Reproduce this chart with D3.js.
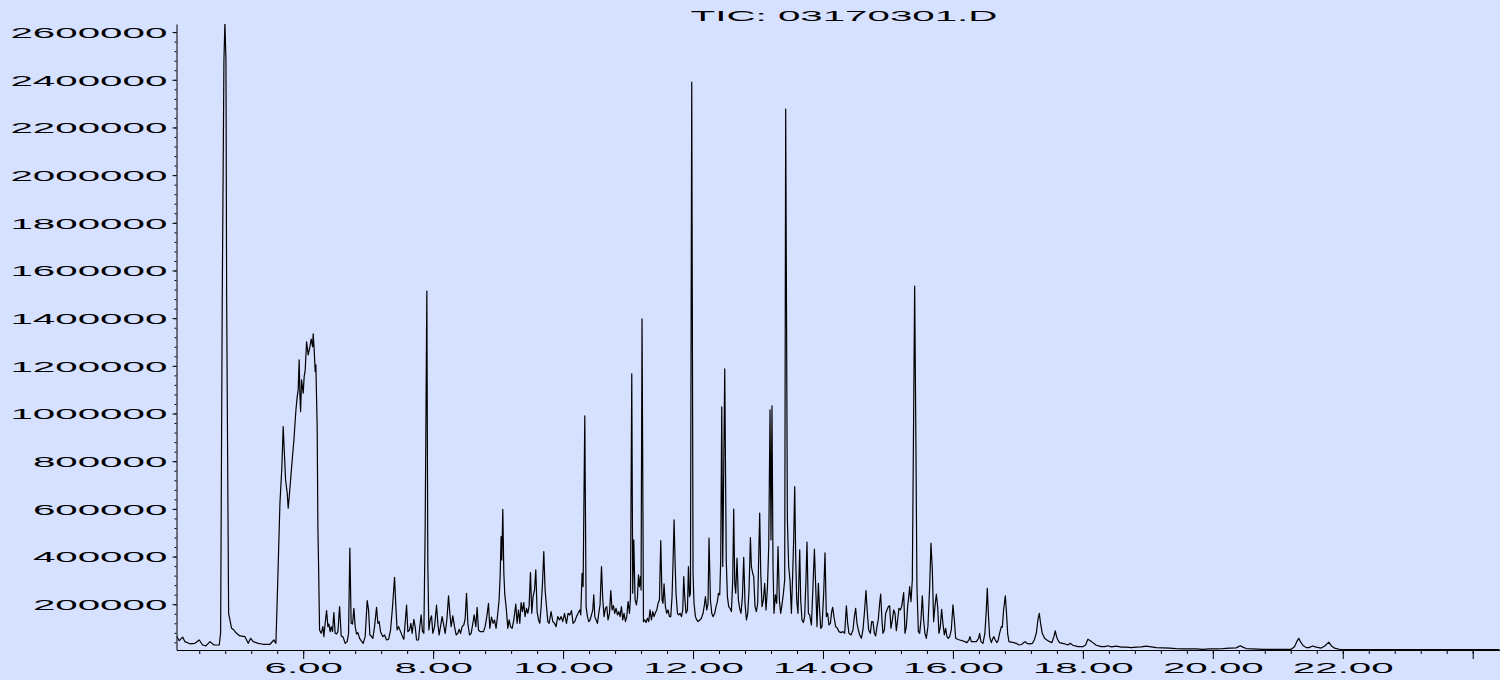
<!DOCTYPE html>
<html>
<head>
<meta charset="utf-8">
<script src="https://cdn.jsdelivr.net/npm/d3@7"></script>
<style>
  html, body { margin: 0; padding: 0; background: #d6e0ff; }
  svg { display: block; }
</style>
</head>
<body>
<svg id="chart" width="1500" height="680"></svg>
<script>
// Total ion chromatogram, run 03170301.D
const chartTitle = "TIC: 03170301.D";

// abundance axis: labelled ticks and unlabelled minor ticks
const abundanceTicks = [200000, 400000, 600000, 800000, 1000000, 1200000, 1400000,
  1600000, 1800000, 2000000, 2200000, 2400000, 2600000];
const abundanceMinorTicks = d3.range(1, 66).map(i => i * 40000);

// retention time axis (minutes)
const timeTicks = [6, 8, 10, 12, 14, 16, 18, 20, 22, 24];
const timeTickLabels = ["6.00", "8.00", "10.00", "12.00", "14.00", "16.00", "18.00", "20.00", "22.00", ""];
const timeMinorTicks = d3.range(0, 50).map(i => +(4.4 + 0.4 * i).toFixed(1));

// [retention time (min), abundance (counts)]
const ticPoints = [
  [4.052,66000],[4.092,47000],[4.145,62000],[4.180,43000],[4.257,34000],[4.334,36000],[4.400,50000],
  [4.452,29000],[4.503,25000],[4.565,43000],[4.626,29000],[4.708,29000],[4.729,80000],[4.754,1476000],
  [4.780,2483000],[4.795,2640000],[4.811,2483000],[4.822,1476000],[4.852,162000],[4.898,99000],
  [4.934,92000],[4.965,80000],[5.026,67000],[5.103,64000],[5.154,36000],[5.191,57000],[5.231,43000],
  [5.308,36000],[5.385,32000],[5.488,32000],[5.549,50000],[5.580,36000],[5.600,218000],[5.642,624000],
  [5.672,777000],[5.692,945000],[5.708,847000],[5.729,721000],[5.754,666000],[5.769,603000],
  [5.785,651000],[5.822,777000],[5.857,889000],[5.888,1015000],[5.908,1071000],[5.923,1099000],
  [5.938,1225000],[5.949,1085000],[5.960,1008000],[5.975,1141000],[6.000,1085000],[6.015,1155000],
  [6.031,1183000],[6.052,1301000],[6.077,1246000],[6.103,1280000],[6.123,1312000],[6.145,1280000],
  [6.154,1334000],[6.169,1267000],[6.185,1176000],[6.195,1204000],[6.215,945000],[6.226,525000],
  [6.237,358000],[6.252,92000],[6.277,78000],[6.303,106000],[6.318,64000],[6.338,120000],[6.360,173000],
  [6.380,106000],[6.395,117000],[6.415,85000],[6.431,106000],[6.452,85000],[6.472,165000],[6.492,78000],
  [6.514,75000],[6.534,85000],[6.560,190000],[6.585,67000],[6.615,62000],[6.646,36000],[6.677,43000],
  [6.698,78000],[6.718,435000],[6.738,120000],[6.760,117000],[6.780,183000],[6.800,106000],[6.822,75000],
  [6.842,81000],[6.868,57000],[6.892,47000],[6.923,36000],[6.954,64000],[6.985,215000],[7.006,176000],
  [7.026,71000],[7.046,67000],[7.072,57000],[7.098,106000],[7.129,187000],[7.149,120000],[7.169,127000],
  [7.191,85000],[7.226,64000],[7.252,71000],[7.283,50000],[7.314,53000],[7.345,92000],[7.375,190000],
  [7.406,313000],[7.426,190000],[7.446,92000],[7.468,106000],[7.498,85000],[7.529,64000],[7.549,53000],
  [7.569,120000],[7.591,196000],[7.611,85000],[7.637,92000],[7.657,120000],[7.677,78000],[7.703,137000],
  [7.723,106000],[7.745,50000],[7.775,50000],[7.795,106000],[7.815,155000],[7.837,85000],[7.857,78000],
  [7.877,512000],[7.903,1514000],[7.918,372000],[7.934,92000],[7.954,134000],[7.975,151000],[7.995,78000],
  [8.022,106000],[8.052,196000],[8.072,120000],[8.092,71000],[8.118,113000],[8.138,148000],[8.165,109000],
  [8.185,78000],[8.211,134000],[8.237,235000],[8.257,162000],[8.277,106000],[8.303,151000],[8.329,106000],
  [8.354,71000],[8.380,78000],[8.400,95000],[8.422,78000],[8.446,106000],[8.472,113000],[8.492,137000],
  [8.514,246000],[8.534,120000],[8.560,71000],[8.585,78000],[8.611,120000],[8.631,155000],[8.657,106000],
  [8.677,187000],[8.698,92000],[8.723,85000],[8.749,85000],[8.775,85000],[8.800,106000],[8.826,148000],
  [8.852,204000],[8.872,99000],[8.898,146000],[8.923,120000],[8.945,134000],[8.969,99000],[8.995,162000],
  [9.015,218000],[9.031,316000],[9.046,484000],[9.057,386000],[9.072,598000],[9.088,330000],[9.103,239000],
  [9.123,190000],[9.149,99000],[9.169,134000],[9.191,106000],[9.215,99000],[9.242,134000],[9.272,201000],
  [9.292,120000],[9.314,176000],[9.334,120000],[9.354,207000],[9.375,169000],[9.395,207000],[9.415,148000],
  [9.437,183000],[9.457,162000],[9.477,193000],[9.498,333000],[9.518,162000],[9.538,232000],[9.560,260000],
  [9.580,344000],[9.600,169000],[9.622,134000],[9.642,120000],[9.662,190000],[9.683,288000],[9.703,421000],
  [9.723,260000],[9.745,190000],[9.765,127000],[9.785,120000],[9.815,169000],[9.842,127000],[9.868,120000],
  [9.892,106000],[9.918,148000],[9.945,134000],[9.969,148000],[9.995,127000],[10.022,162000],
  [10.052,120000],[10.077,162000],[10.103,155000],[10.129,173000],[10.154,120000],[10.180,127000],
  [10.206,148000],[10.231,162000],[10.257,176000],[10.272,155000],[10.292,330000],[10.308,274000],
  [10.334,990000],[10.354,190000],[10.375,148000],[10.395,127000],[10.415,134000],[10.437,155000],
  [10.457,176000],[10.472,239000],[10.488,148000],[10.508,134000],[10.529,120000],[10.549,162000],
  [10.569,197000],[10.591,358000],[10.611,218000],[10.631,148000],[10.652,183000],[10.672,190000],
  [10.692,134000],[10.714,162000],[10.734,257000],[10.754,176000],[10.775,194000],[10.795,162000],
  [10.815,183000],[10.837,155000],[10.857,169000],[10.877,148000],[10.898,190000],[10.918,134000],
  [10.938,162000],[10.960,127000],[10.980,148000],[11.000,211000],[11.022,162000],[11.037,232000],
  [11.057,1166000],[11.072,246000],[11.088,470000],[11.108,218000],[11.129,197000],[11.145,232000],
  [11.160,323000],[11.175,274000],[11.191,316000],[11.200,260000],[11.215,1397000],[11.237,127000],
  [11.257,134000],[11.277,123000],[11.298,141000],[11.318,127000],[11.338,176000],[11.360,134000],
  [11.380,169000],[11.400,148000],[11.422,165000],[11.442,176000],[11.462,204000],[11.483,218000],
  [11.503,467000],[11.523,218000],[11.538,204000],[11.554,285000],[11.575,190000],[11.595,162000],
  [11.615,176000],[11.637,148000],[11.657,148000],[11.677,232000],[11.692,372000],[11.708,554000],
  [11.723,386000],[11.738,246000],[11.760,162000],[11.780,155000],[11.800,162000],[11.822,148000],
  [11.842,176000],[11.857,316000],[11.872,232000],[11.892,162000],[11.914,176000],[11.929,358000],
  [11.945,232000],[11.960,246000],[11.980,2390000],[12.000,330000],[12.015,204000],[12.037,148000],
  [12.057,134000],[12.077,127000],[12.103,134000],[12.129,141000],[12.154,162000],[12.175,197000],
  [12.191,232000],[12.211,176000],[12.231,204000],[12.246,477000],[12.268,218000],[12.288,162000],
  [12.308,148000],[12.334,162000],[12.354,190000],[12.375,211000],[12.391,246000],[12.411,239000],
  [12.426,386000],[12.442,1028000],[12.457,358000],[12.488,1187000],[12.511,386000],[12.529,232000],
  [12.549,190000],[12.569,183000],[12.591,169000],[12.611,302000],[12.626,599000],[12.642,288000],
  [12.657,246000],[12.677,393000],[12.698,218000],[12.718,183000],[12.738,162000],[12.760,232000],
  [12.780,397000],[12.800,204000],[12.822,134000],[12.842,162000],[12.862,260000],[12.883,479000],
  [12.898,358000],[12.918,330000],[12.934,316000],[12.954,190000],[12.975,169000],[12.995,204000],
  [13.011,400000],[13.026,582000],[13.042,330000],[13.062,190000],[13.083,218000],[13.103,288000],
  [13.123,176000],[13.145,267000],[13.165,442000],[13.185,1015000],[13.200,470000],[13.215,1032000],
  [13.231,358000],[13.246,162000],[13.268,239000],[13.288,204000],[13.308,442000],[13.329,218000],
  [13.349,162000],[13.369,197000],[13.391,246000],[13.411,302000],[13.426,2277000],[13.452,554000],
  [13.472,358000],[13.492,302000],[13.514,162000],[13.534,330000],[13.549,470000],[13.565,693000],
  [13.580,400000],[13.595,218000],[13.615,162000],[13.642,428000],[13.657,218000],[13.677,134000],
  [13.698,123000],[13.718,148000],[13.738,302000],[13.754,461000],[13.775,162000],[13.795,155000],
  [13.822,113000],[13.846,274000],[13.868,431000],[13.888,274000],[13.908,106000],[13.929,288000],
  [13.945,190000],[13.965,99000],[13.985,106000],[14.011,246000],[14.031,416000],[14.052,148000],
  [14.072,162000],[14.092,113000],[14.114,120000],[14.134,169000],[14.149,187000],[14.169,148000],
  [14.195,106000],[14.222,99000],[14.246,85000],[14.277,81000],[14.308,85000],[14.334,78000],
  [14.360,193000],[14.380,120000],[14.400,78000],[14.431,71000],[14.462,92000],[14.483,148000],
  [14.503,183000],[14.523,120000],[14.545,92000],[14.565,71000],[14.591,57000],[14.615,92000],
  [14.637,162000],[14.662,257000],[14.683,162000],[14.703,92000],[14.729,78000],[14.749,127000],
  [14.769,127000],[14.791,78000],[14.811,67000],[14.831,106000],[14.852,137000],[14.872,204000],
  [14.888,242000],[14.908,134000],[14.923,78000],[14.945,92000],[14.965,162000],[14.985,176000],
  [15.006,190000],[15.026,193000],[15.046,99000],[15.068,134000],[15.088,176000],[15.108,162000],
  [15.129,89000],[15.149,134000],[15.169,183000],[15.191,176000],[15.211,190000],[15.242,249000],
  [15.262,78000],[15.283,106000],[15.303,190000],[15.323,239000],[15.334,274000],[15.354,211000],
  [15.375,302000],[15.391,847000],[15.411,1535000],[15.431,847000],[15.446,274000],[15.468,85000],
  [15.488,78000],[15.508,134000],[15.529,235000],[15.549,134000],[15.569,78000],[15.591,57000],
  [15.615,106000],[15.642,274000],[15.662,456000],[15.683,344000],[15.703,127000],[15.723,190000],
  [15.745,242000],[15.765,190000],[15.785,78000],[15.806,106000],[15.826,179000],[15.846,120000],
  [15.868,71000],[15.888,99000],[15.908,64000],[15.929,57000],[15.949,64000],[15.975,92000],
  [16.000,197000],[16.022,134000],[16.042,57000],[16.072,53000],[16.103,50000],[16.145,47000],
  [16.185,43000],[16.215,39000],[16.246,50000],[16.262,64000],[16.283,43000],[16.318,43000],
  [16.360,43000],[16.395,57000],[16.411,78000],[16.431,43000],[16.462,36000],[16.492,78000],
  [16.514,176000],[16.529,267000],[16.545,162000],[16.565,64000],[16.591,39000],[16.615,57000],
  [16.631,64000],[16.652,50000],[16.677,39000],[16.698,50000],[16.718,78000],[16.745,106000],
  [16.760,104000],[16.780,176000],[16.806,235000],[16.822,176000],[16.842,78000],[16.862,43000],
  [16.898,41000],[16.934,39000],[16.975,36000],[17.015,29000],[17.057,31000],[17.088,39000],
  [17.114,43000],[17.138,36000],[17.180,34000],[17.222,36000],[17.252,50000],[17.283,78000],
  [17.308,134000],[17.329,162000],[17.349,120000],[17.375,78000],[17.411,57000],[17.446,50000],
  [17.488,43000],[17.523,39000],[17.554,64000],[17.575,88000],[17.595,64000],[17.615,50000],
  [17.642,39000],[17.718,34000],[17.769,29000],[17.806,36000],[17.846,28000],[17.923,22000],
  [18.000,22000],[18.042,29000],[18.077,53000],[18.114,47000],[18.154,39000],[18.206,28000],
  [18.283,22000],[18.334,22000],[18.385,26000],[18.437,21000],[18.514,24000],[18.591,20000],
  [18.668,20000],[18.745,18000],[18.822,20000],[18.898,21000],[18.975,24000],[19.052,21000],
  [19.129,18000],[19.231,17000],[19.334,16000],[19.437,14000],[19.538,13000],[19.642,13000],
  [19.745,13000],[19.846,11000],[19.949,13000],[20.052,13000],[20.154,14000],[20.257,16000],
  [20.360,17000],[20.422,26000],[20.462,20000],[20.514,14000],[20.615,13000],[20.769,11000],
  [20.923,11000],[21.077,11000],[21.206,11000],[21.257,22000],[21.292,43000],[21.323,57000],
  [21.349,43000],[21.385,28000],[21.437,18000],[21.477,18000],[21.538,25000],[21.591,20000],
  [21.668,16000],[21.723,25000],[21.785,41000],[21.826,25000],[21.872,16000],[21.949,11000],
  [22.154,10000],[22.360,10000],[22.615,10000],[22.872,10000],[23.180,10000],[23.488,10000],
  [23.795,10000],[24.411,10000]
];

const svg = d3.select("#chart");
const fontFamily = "'Liberation Sans', Arial, Helvetica, sans-serif";
const stretch = 2.6;   // the instrument's wide lettering

const x = d3.scaleLinear().domain([4.05, 24.42]).range([176.5, 1500]);
const y = d3.scaleLinear().domain([8000, 2634000]).range([650, 24]);

// trace, clipped to the plotting area
svg.append("clipPath").attr("id", "plot-clip")
  .append("rect")
  .attr("x", x.range()[0]).attr("y", y.range()[1])
  .attr("width", x.range()[1] - x.range()[0])
  .attr("height", y.range()[0] - y.range()[1]);

const line = d3.line().x(d => x(d[0])).y(d => y(d[1]));

svg.append("path")
  .datum(ticPoints)
  .attr("clip-path", "url(#plot-clip)")
  .attr("fill", "none")
  .attr("stroke", "#000")
  .attr("stroke-width", 1.2)
  .attr("stroke-linejoin", "round")
  .attr("d", line);

// minor ticks
svg.append("g")
  .attr("transform", `translate(${x.range()[0]},0)`)
  .call(d3.axisLeft(y).tickValues(abundanceMinorTicks).tickSize(2).tickFormat(""))
  .call(g => g.select(".domain").remove())
  .call(g => g.selectAll("line").attr("stroke", "#000"));

svg.append("g")
  .attr("transform", `translate(0,${y.range()[0]})`)
  .call(d3.axisBottom(x).tickValues(timeMinorTicks).tickSize(4).tickFormat(""))
  .call(g => g.select(".domain").remove())
  .call(g => g.selectAll("line").attr("stroke", "#000"));

// abundance axis
const yAxis = svg.append("g")
  .attr("transform", `translate(${x.range()[0]},0)`)
  .call(d3.axisLeft(y).tickValues(abundanceTicks).tickSize(4).tickSizeOuter(0).tickFormat(d3.format("d")));
yAxis.attr("font-family", fontFamily).attr("font-size", 15.5);
yAxis.select(".domain").attr("stroke", "#000");
yAxis.selectAll("line").attr("stroke", "#000");
yAxis.selectAll("text")
  .attr("x", null).attr("dy", null)
  .attr("fill", "#000")
  .attr("text-anchor", "end")
  .attr("transform", `translate(-9.2,5.4) scale(${stretch},1)`);

// retention time axis
const xAxis = svg.append("g")
  .attr("transform", `translate(0,${y.range()[0]})`)
  .call(d3.axisBottom(x).tickValues(timeTicks).tickSize(9).tickSizeOuter(0)
    .tickFormat((d, i) => timeTickLabels[i]));
xAxis.attr("font-family", fontFamily).attr("font-size", 15.5);
xAxis.select(".domain").attr("stroke", "#000");
xAxis.selectAll("line").attr("stroke", "#000");
xAxis.selectAll("text")
  .attr("y", null).attr("dy", null)
  .attr("fill", "#000")
  .attr("text-anchor", "middle")
  .attr("transform", `translate(0,23.3) scale(${stretch},1)`);

// title
svg.append("text")
  .attr("transform", `translate(844,20.6) scale(${stretch},1)`)
  .attr("text-anchor", "middle")
  .attr("font-family", fontFamily)
  .attr("font-size", 15.5)
  .attr("fill", "#000")
  .text(chartTitle);
</script>
</body>
</html>
